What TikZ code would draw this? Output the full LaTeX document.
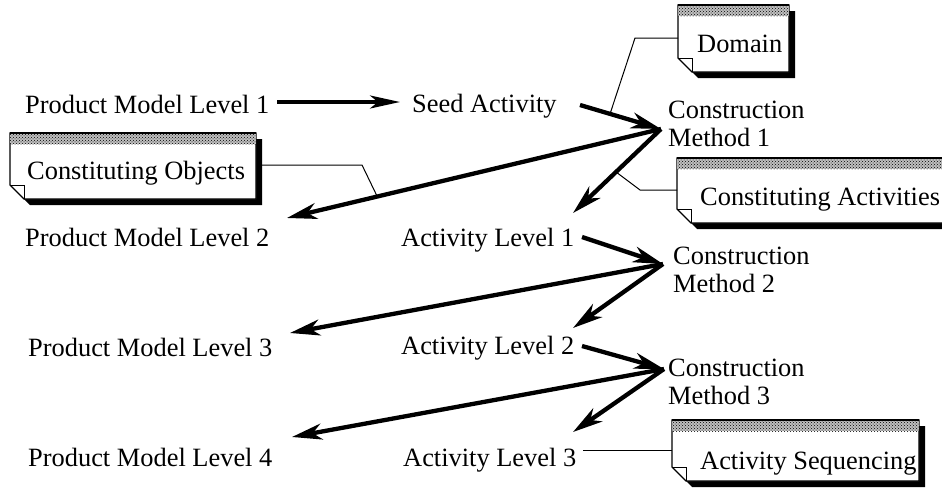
\documentclass[tikz,border=0pt]{standalone}
\usepackage{fontspec}
\setmainfont{Liberation Serif}
\usetikzlibrary{arrows.meta,patterns}
\tikzset{
  lbl/.style={anchor=base west, inner sep=0pt, font=\fontsize{26.4}{27.5}\selectfont, align=left},
  bigarrow/.style={line width=4.3pt, -{Stealth[length=30pt,width=16pt,inset=9pt]}},
  thin/.style={line width=1pt},
}
\newcommand\mynote[4]{%
  \fill[black] (#1+6,#2+6) -- (#3,#2+6) -- (#3,#4) -- (#1+20,#4) -- (#1+6,#4-14) -- cycle;
  \filldraw[fill=white,draw=black,line width=1.1pt] (#1,#2) -- (#3-6,#2) -- (#3-6,#4-6) -- (#1+14,#4-6) -- (#1,#4-20) -- cycle;
  \fill[black!25] (#1,#2) rectangle (#3-6,#2+11);
  \fill[pattern=crosshatch dots,pattern color=black] (#1,#2) rectangle (#3-6,#2+11);
  \draw[line width=1.8pt] (#1,#2) -- (#3-6,#2);
  \draw[line width=1pt] (#1,#4-20) -- (#1+14,#4-20) -- (#1+14,#4-6);
}
\begin{document}
\begin{tikzpicture}[x=1pt,y=-1pt]
\useasboundingbox (0,0) rectangle (942,490);
\clip (0,0) rectangle (942,490);
\fill[white] (0,0) rectangle (942,490);

% notes
\mynote{678}{5}{795}{78}
\mynote{10}{133}{262}{205}
\mynote{677}{158}{975}{229}
\mynote{672}{420}{925}{487}
\node[lbl] (domain) at (697,52) {Domain};
\node[lbl] (cobj) at (27,179) {Constituting Objects};
\node[lbl] (cact) at (700,205) {Constituting Activities};
\node[lbl] (aseq) at (700,469) {Activity Sequencing};

% text nodes
\node[lbl] (pml1) at (25,113) {Product Model Level 1};
\node[lbl] (pml2) at (25,246) {Product Model Level 2};
\node[lbl] (pml3) at (28,356) {Product Model Level 3};
\node[lbl] (pml4) at (28,466) {Product Model Level 4};
\node[lbl] (seed) at (412,112) {Seed Activity};
\node[lbl] (al1) at (401,246) {Activity Level 1};
\node[lbl] (al2) at (401,354) {Activity Level 2};
\node[lbl] (al3) at (403,466) {Activity Level 3};
\node[lbl] (cm1) at (668,146) {Construction\\Method 1};
\node[lbl] (cm2) at (673,292) {Construction\\Method 2};
\node[lbl] (cm3) at (668,404) {Construction\\Method 3};

% connector end points
\coordinate (pml1out) at (277,102);
\coordinate (seedin) at (400,102);
\coordinate (seedout) at (580,105);
\coordinate (m1) at (661,129);
\coordinate (pml2in) at (287,218);
\coordinate (al1in) at (573,213);
\coordinate (al1out) at (582,237);
\coordinate (m2) at (663,264);
\coordinate (pml3in) at (290,333);
\coordinate (al2in) at (573,328);
\coordinate (al2out) at (582,346);
\coordinate (m3) at (664,369);
\coordinate (pml4in) at (292,437);
\coordinate (al3in) at (573,432);

% thin links
\coordinate (dA) at (678,38);
\coordinate (dB) at (635,38);
\coordinate (dC) at (610,114);
\draw[thin] (dA) -- (dB) -- (dC);
\coordinate (cA) at (677,190);
\coordinate (cB) at (640,190);
\coordinate (cC) at (616,172);
\draw[thin] (cA) -- (cB) -- (cC);
\coordinate (oA) at (262,165);
\coordinate (oB) at (362,165);
\coordinate (oC) at (377,196);
\draw[thin] (oA) -- (oB) -- (oC);
\coordinate (sA) at (583,450);
\coordinate (sB) at (672,450);
\draw[thin] (sA) -- (sB);

% arrows
\draw[line width=3.6pt, -{Stealth[length=30pt,width=13pt,inset=8pt]}] (pml1out) -- (seedin);
\draw[bigarrow] (seedout) -- (m1);
\draw[bigarrow] (m1) -- (pml2in);
\draw[bigarrow] (m1) -- (al1in);
\draw[bigarrow] (al1out) -- (m2);
\draw[bigarrow] (m2) -- (pml3in);
\draw[bigarrow] (m2) -- (al2in);
\draw[bigarrow] (al2out) -- (m3);
\draw[bigarrow] (m3) -- (pml4in);
\draw[bigarrow] (m3) -- (al3in);
\end{tikzpicture}
\end{document}
